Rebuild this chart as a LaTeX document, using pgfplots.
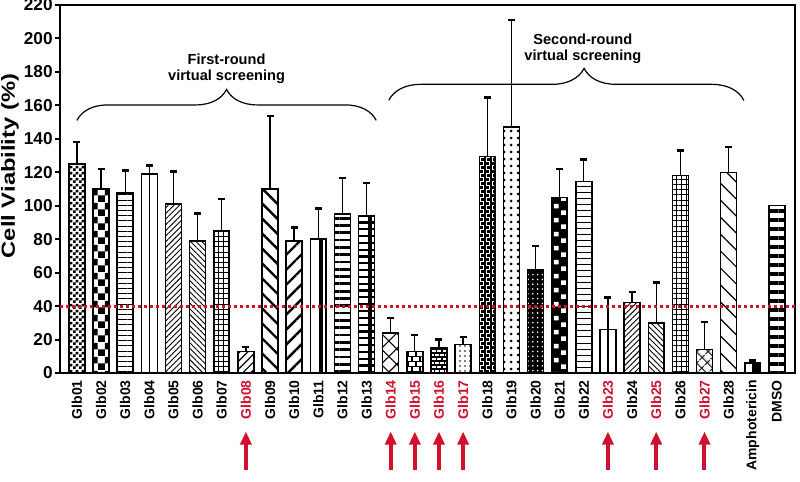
\documentclass[border=0pt]{standalone}
\usepackage{pgfplots}
\pgfplotsset{compat=1.18}
\usepackage{fontspec}
\setmainfont{Liberation Sans}
\usetikzlibrary{patterns,patterns.meta,decorations.pathreplacing,arrows.meta}
\definecolor{myred}{RGB}{208,16,44}

\pgfdeclarepatternformonly{smallchecker}{\pgfpointorigin}{\pgfqpoint{2.8pt}{2.8pt}}{\pgfqpoint{2.8pt}{2.8pt}}{%
  \pgfpathrectangle{\pgfpointorigin}{\pgfqpoint{1.4pt}{1.4pt}}%
  \pgfpathrectangle{\pgfqpoint{1.4pt}{1.4pt}}{\pgfqpoint{1.4pt}{1.4pt}}%
  \pgfusepath{fill}}
\pgfdeclarepatternformonly{bigchecker}{\pgfpointorigin}{\pgfqpoint{7pt}{7pt}}{\pgfqpoint{7pt}{7pt}}{%
  \pgfpathrectangle{\pgfpointorigin}{\pgfqpoint{3.5pt}{3.5pt}}%
  \pgfpathrectangle{\pgfqpoint{3.5pt}{3.5pt}}{\pgfqpoint{3.5pt}{3.5pt}}%
  \pgfusepath{fill}}
\pgfdeclarepatternformonly{sqdots}{\pgfpointorigin}{\pgfqpoint{7pt}{7pt}}{\pgfqpoint{7pt}{7pt}}{%
  \pgfpathrectangle{\pgfqpoint{0.6pt}{0.6pt}}{\pgfqpoint{2.4pt}{2.4pt}}%
  \pgfpathrectangle{\pgfqpoint{4.1pt}{4.1pt}}{\pgfqpoint{2.4pt}{2.4pt}}%
  \pgfusepath{fill}}
% small bricks: brick 2.6pt wide, rows 2pt
\pgfdeclarepatternformonly{sbricks}{\pgfqpoint{-0.5pt}{-0.5pt}}{\pgfqpoint{3.1pt}{4.5pt}}{\pgfqpoint{2.6pt}{4pt}}{%
  \pgfsetlinewidth{0.55pt}%
  \pgfpathmoveto{\pgfqpoint{0pt}{0pt}}\pgfpathlineto{\pgfqpoint{2.6pt}{0pt}}%
  \pgfpathmoveto{\pgfqpoint{0pt}{2pt}}\pgfpathlineto{\pgfqpoint{2.6pt}{2pt}}%
  \pgfpathmoveto{\pgfqpoint{0pt}{0pt}}\pgfpathlineto{\pgfqpoint{0pt}{2pt}}%
  \pgfpathmoveto{\pgfqpoint{1.3pt}{2pt}}\pgfpathlineto{\pgfqpoint{1.3pt}{4pt}}%
  \pgfusepath{stroke}}
% thin white bricks for the dark bar
\pgfdeclarepatternformonly{wbricks}{\pgfqpoint{-0.5pt}{-0.5pt}}{\pgfqpoint{3.5pt}{4.5pt}}{\pgfqpoint{3pt}{4pt}}{%
  \pgfsetlinewidth{0.3pt}%
  \pgfpathmoveto{\pgfqpoint{0pt}{0pt}}\pgfpathlineto{\pgfqpoint{2pt}{0pt}}%
  \pgfpathmoveto{\pgfqpoint{0pt}{2pt}}\pgfpathlineto{\pgfqpoint{2pt}{2pt}}%
  \pgfpathmoveto{\pgfqpoint{0pt}{0pt}}\pgfpathlineto{\pgfqpoint{0pt}{1.5pt}}%
  \pgfpathmoveto{\pgfqpoint{1.5pt}{2pt}}\pgfpathlineto{\pgfqpoint{1.5pt}{3.5pt}}%
  \pgfusepath{stroke}}
% larger bricks: brick 4pt wide, rows 2.6pt
\pgfdeclarepatternformonly{lbricks}{\pgfqpoint{-0.5pt}{-0.5pt}}{\pgfqpoint{4.5pt}{5.7pt}}{\pgfqpoint{4pt}{5.2pt}}{%
  \pgfsetlinewidth{0.6pt}%
  \pgfpathmoveto{\pgfqpoint{0pt}{0pt}}\pgfpathlineto{\pgfqpoint{4pt}{0pt}}%
  \pgfpathmoveto{\pgfqpoint{0pt}{2.6pt}}\pgfpathlineto{\pgfqpoint{4pt}{2.6pt}}%
  \pgfpathmoveto{\pgfqpoint{0pt}{0pt}}\pgfpathlineto{\pgfqpoint{0pt}{2.6pt}}%
  \pgfpathmoveto{\pgfqpoint{2pt}{2.6pt}}\pgfpathlineto{\pgfqpoint{2pt}{5.2pt}}%
  \pgfusepath{stroke}}

\pgfplotsset{
  bb/.style={ybar, bar width=0.66, bar shift=0pt, draw=black, line width=0.75pt,
    error bars/y dir=plus, error bars/y explicit,
    error bars/error bar style={line width=0.65pt, draw=black, solid},
    error bars/error mark options={rotate=90, line width=1.3pt, mark size=1.75pt, draw=black}},
  nb/.style={ybar, bar width=0.66, bar shift=0pt, draw=black, line width=0.75pt},
}

\begin{document}
\begin{tikzpicture}
\begin{axis}[
  scale only axis, width=367.5pt, height=184pt,
  xmin=-0.7, xmax=29.75, ymin=0, ymax=220,
  clip=false,
  axis line style={line width=1.2pt},
  ytick={0,20,...,220},
  xtick={0,...,29},
  xticklabels={Glb01,Glb02,Glb03,Glb04,Glb05,Glb06,Glb07,\textcolor{myred}{Glb08},Glb09,Glb10,Glb11,Glb12,Glb13,\textcolor{myred}{Glb14},\textcolor{myred}{Glb15},\textcolor{myred}{Glb16},\textcolor{myred}{Glb17},Glb18,Glb19,Glb20,Glb21,Glb22,\textcolor{myred}{Glb23},Glb24,\textcolor{myred}{Glb25},Glb26,\textcolor{myred}{Glb27},Glb28,Amphotericin,DMSO},
  x tick style={draw=none},
  ytick pos=left, tick align=outside, major tick length=2.5pt,
  y tick style={line width=1pt, black},
  /pgf/number format/assume math mode=true,
  yticklabel style={font=\fontsize{8.6}{9}\selectfont\bfseries, inner sep=1pt},
  xticklabel style={rotate=90, anchor=east, font=\fontsize{7}{8}\selectfont\bfseries, inner sep=1pt},
  ylabel={\scalebox{1.25}[1]{\fontsize{9.5}{10}\selectfont\bfseries Cell Viability (\%)}},
  ylabel style={at={(axis description cs:-0.068,0.5625)}, anchor=center},
]
\coordinate (bbsw) at (rel axis cs:0,0);
\coordinate (bbne) at (rel axis cs:1,1);

% bars
\addplot[bb, pattern=smallchecker] coordinates {(0,125) +- (0,13)};
\addplot[bb, pattern=bigchecker] coordinates {(1,110) +- (0,12)};
\addplot[bb, pattern={Lines[angle=0,distance=2.6pt,line width=0.5pt]}] coordinates {(2,107.5) +- (0,13.5)};
\addplot[bb] coordinates {(3,119) +- (0,5)};
\addplot[black, line width=0.75pt, mark=none] coordinates {(3,0) (3,119)};
\addplot[bb, pattern={Lines[angle=45,distance=2pt,line width=0.45pt]}] coordinates {(4,101) +- (0,19.5)};
\addplot[bb, pattern={Lines[angle=-45,distance=2pt,line width=0.45pt]}] coordinates {(5,79) +- (0,16.5)};
\addplot[bb, pattern={Hatch[angle=0,distance=2.6pt,line width=0.5pt]}] coordinates {(6,85) +- (0,19)};
\addplot[bb, pattern={Lines[angle=45,distance=2.8pt,line width=0.6pt]}] coordinates {(7,13) +- (0,2.5)};
\addplot[bb, pattern={Lines[angle=-45,distance=5.3pt,line width=1.2pt]}] coordinates {(8,110) +- (0,43.6)};
\addplot[bb, pattern={Lines[angle=45,distance=5.3pt,line width=1.2pt]}] coordinates {(9,79) +- (0,8)};
\addplot[bb] coordinates {(10,80) +- (0,18.5)};
\addplot[ybar, bar width=0.16, bar shift=0.13, fill=black, draw=none] coordinates {(10,80)};
\addplot[bb, pattern={Lines[angle=0,distance=3.65pt,line width=1.4pt]}] coordinates {(11,95) +- (0,21.5)};
\addplot[bb, pattern={Lines[angle=0,distance=3.4pt,line width=1.1pt]}] coordinates {(12,94) +- (0,19.5)};
\addplot[ybar, bar width=0.14, bar shift=0.14, fill=black, draw=none] coordinates {(12,94)};
\addplot[bb, pattern={Hatch[angle=45,distance=5.5pt,line width=0.55pt]}] coordinates {(13,24) +- (0,9)};
\addplot[bb, pattern=lbricks] coordinates {(14,13) +- (0,9.7)};
\addplot[bb, pattern=sbricks] coordinates {(15,15) +- (0,5)};
\addplot[bb, pattern={Dots[distance=2.5pt,radius=0.45pt]}] coordinates {(16,17) +- (0,4.5)};
\addplot[bb, fill=black, postaction={pattern=wbricks, pattern color=white}] coordinates {(17,129.5) +- (0,35.3)};
\addplot[bb, pattern={Dots[distance=3.5pt,radius=0.75pt]}] coordinates {(18,147) +- (0,64)};
\addplot[bb, fill=black, postaction={pattern={Dots[distance=2.4pt,radius=0.45pt]}, pattern color=white}] coordinates {(19,61.5) +- (0,14.5)};
\addplot[bb, fill=black, postaction={pattern=sqdots, pattern color=white}] coordinates {(20,105) +- (0,17)};
\addplot[bb, pattern={Lines[angle=0,distance=3pt,line width=0.5pt]}] coordinates {(21,114.6) +- (0,13)};
\addplot[bb] coordinates {(22,26) +- (0,19)};
\addplot[black, line width=0.75pt, mark=none] coordinates {(22,0) (22,26)};
\addplot[bb, pattern={Lines[angle=45,distance=2pt,line width=0.45pt]}] coordinates {(23,42) +- (0,6.5)};
\addplot[bb, pattern={Lines[angle=-45,distance=2pt,line width=0.45pt]}] coordinates {(24,30) +- (0,24)};
\addplot[bb, pattern={Hatch[angle=0,distance=2.6pt,line width=0.5pt]}] coordinates {(25,118) +- (0,15)};
\addplot[bb, pattern={Hatch[angle=45,distance=4pt,line width=0.6pt]}] coordinates {(26,14) +- (0,16.4)};
\addplot[bb, pattern={Lines[angle=-45,distance=6pt,line width=0.6pt]}] coordinates {(27,120) +- (0,15)};
\addplot[bb] coordinates {(28,6) +- (0,1.5)};
\addplot[ybar, bar width=0.33, bar shift=0.165, fill=black, draw=black, line width=0.75pt] coordinates {(28,6)};
\addplot[nb, pattern={Lines[angle=0,distance=4.5pt,line width=2pt]}] coordinates {(29,100)};

% threshold line
\addplot[myred, line width=1.5pt, dash pattern=on 1.5pt off 1.5pt, mark=none] coordinates {(-0.7,40) (29.75,40)};

% arrows
\addplot[myred, line width=2pt, mark=none, -{Triangle[width=5.5pt,length=6.5pt]}, quiver={u=0,v=23}] coordinates {(7,-58) (13,-58) (14,-58) (15,-58) (16,-58) (22,-58) (24,-58) (26,-58)};

% braces
\draw[line width=0.6pt, decorate, decoration={brace, amplitude=15.5pt}] (axis cs:0,151) -- (axis cs:12.4,151);
\draw[line width=0.6pt, decorate, decoration={brace, amplitude=16pt, aspect=0.55}] (axis cs:12.92,163) -- (axis cs:27.63,163);
\node[align=center, font=\fontsize{7.3}{7.8}\selectfont\bfseries] at (axis cs:6.2,181.8) {First-round\\virtual screening};
\node[align=center, font=\fontsize{7.3}{7.8}\selectfont\bfseries] at (axis cs:20.96,193.7) {Second-round\\virtual screening};
\end{axis}
\pgfresetboundingbox
\path[use as bounding box] ([shift={(-30pt,-54pt)}]bbsw) rectangle ([shift={(2.5pt,2.5pt)}]bbne);
\end{tikzpicture}
\end{document}
